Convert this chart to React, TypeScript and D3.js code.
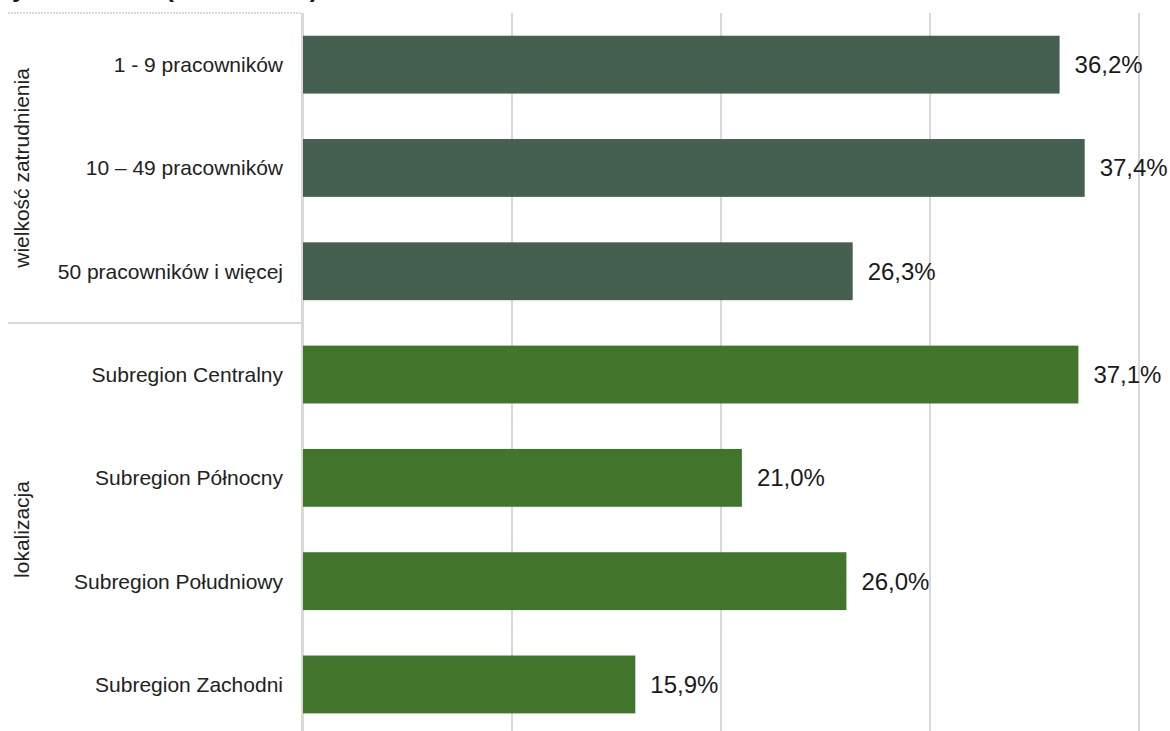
import React from "react";
import * as d3 from "d3";

const categories = [
  "1 - 9 pracowników",
  "10 – 49 pracowników",
  "50 pracowników i więcej",
  "Subregion Centralny",
  "Subregion Północny",
  "Subregion Południowy",
  "Subregion Zachodni",
];
const values = [36.2, 37.4, 26.3, 37.1, 21.0, 26.0, 15.9];
const groupOf = [0, 0, 0, 1, 1, 1, 1];
const groups = ["wielkość zatrudnienia", "lokalizacja"];
const groupColors = ["#455F51", "#41752C"];
const xTicks = [0, 10, 20, 30, 40];
const title = "Wykres 11.1 – (wartości %)";

const W = 1170;
const H = 731;

export default function App() {
  const left = 303;
  const right = 1139;
  const top = 13;
  const step = 103.3;
  const bottom = top + step * categories.length;

  const x = d3.scaleLinear().domain([0, 40]).range([left, right]);
  const y = d3
    .scaleBand<string>()
    .domain(categories)
    .range([top, bottom])
    .paddingInner(0.44)
    .paddingOuter(0.22);

  const fmt = (v: number) => v.toFixed(1).replace(".", ",") + "%";

  const groupExtents = groups.map((g, gi) => {
    const idx = categories.map((_, i) => i).filter((i) => groupOf[i] === gi);
    const y0 = top + idx[0] * step;
    const y1 = top + (idx[idx.length - 1] + 1) * step;
    return { g, y0, y1 };
  });

  const font = "'Liberation Sans', Arial, sans-serif";

  return (
    <svg
      width={W}
      height={H}
      style={{ position: "fixed", left: 0, top: 0, background: "#fff" }}
      fontFamily={font}
    >
      <rect x={0} y={0} width={W} height={H} fill="#fff" />
      <text x={-12} y={-3} fontSize={26} fontWeight="bold" fill="#1a1a1a">
        {title}
      </text>

      {xTicks.map((t) => (
        <line
          key={t}
          x1={x(t)}
          x2={x(t)}
          y1={top}
          y2={H}
          stroke="#d9d9d9"
          strokeWidth={2}
        />
      ))}

      <line x1={x(0) - 1} x2={x(0) - 1} y1={top} y2={H} stroke="#d9d9d9" strokeWidth={2} />
      <line x1={8} x2={x(0) - 1} y1={top} y2={top} stroke="#d0d0d0" strokeWidth={1.5} strokeDasharray="2 1" />
      {groupExtents.slice(1).map((ge) => (
        <line
          key={ge.g}
          x1={8}
          x2={x(0) - 1}
          y1={ge.y0}
          y2={ge.y0}
          stroke="#d9d9d9"
          strokeWidth={2}
        />
      ))}

      {categories.map((c, i) => (
        <rect
          key={c}
          x={x(0)}
          y={y(c)}
          width={x(values[i]) - x(0)}
          height={y.bandwidth()}
          fill={groupColors[groupOf[i]]}
        />
      ))}

      {categories.map((c, i) => (
        <text
          key={c}
          x={x(values[i]) + 15}
          y={(y(c) as number) + y.bandwidth() / 2}
          dominantBaseline="central"
          fontSize={24}
          fill="#1a1a1a"
        >
          {fmt(values[i])}
        </text>
      ))}

      {categories.map((c) => (
        <text
          key={c}
          x={283}
          y={(y(c) as number) + y.bandwidth() / 2}
          dominantBaseline="central"
          textAnchor="end"
          fontSize={21}
          fill="#222"
        >
          {c}
        </text>
      ))}

      {groupExtents.map((ge) => (
        <text
          key={ge.g}
          transform={`translate(21,${(ge.y0 + ge.y1) / 2}) rotate(-90)`}
          textAnchor="middle"
          dominantBaseline="central"
          fontSize={21}
          fill="#222"
        >
          {ge.g}
        </text>
      ))}
    </svg>
  );
}
